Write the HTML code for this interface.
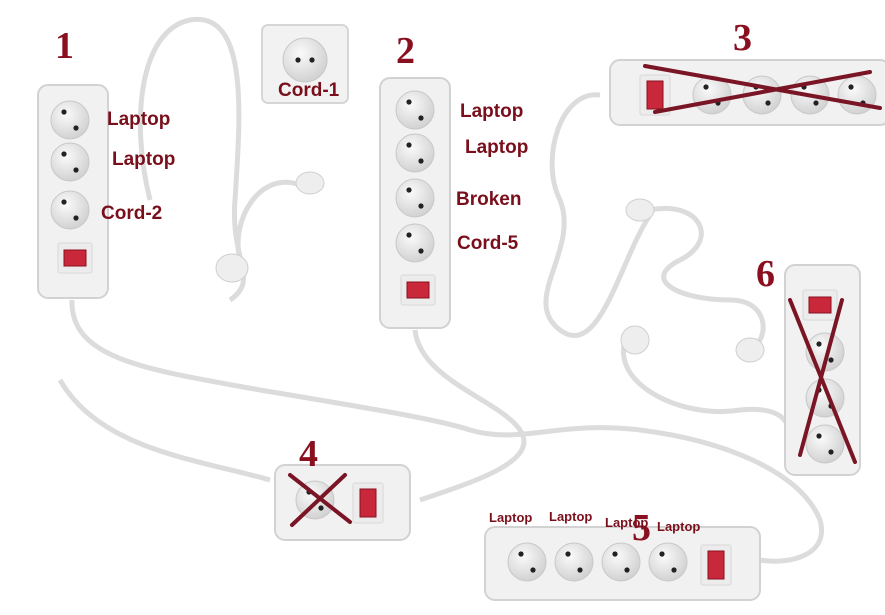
<!DOCTYPE html>
<html><head><meta charset="utf-8"><style>
html,body{margin:0;padding:0;background:#fff;}
svg{display:block}
.l{font-family:"Liberation Sans",sans-serif;font-weight:bold;fill:#7a0f1c;font-size:19px}
.s{font-family:"Liberation Sans",sans-serif;font-weight:bold;fill:#7a0f1c;font-size:13px}
.n{font-family:"Liberation Serif",serif;font-weight:bold;fill:#8a1020;font-size:38px}
.x{stroke:#7a1525;stroke-width:4;stroke-linecap:round}
.c{fill:none;stroke:#dcdcdc;stroke-width:5}
.c2{fill:none;stroke:#f4f4f4;stroke-width:2}
</style></head><body>
<svg width="885" height="615" viewBox="0 0 885 615" xmlns="http://www.w3.org/2000/svg">
<defs>
<radialGradient id="sg" cx="40%" cy="35%" r="70%"><stop offset="0" stop-color="#fafafa"/><stop offset="1" stop-color="#cfcfcf"/></radialGradient>
<g id="sk"><circle r="19" fill="url(#sg)" stroke="#c8c8c8"/><circle cx="-6" cy="-8" r="2.6" fill="#222"/><circle cx="6" cy="8" r="2.6" fill="#222"/></g>
<g id="sw"><rect x="-17" y="-15" width="34" height="30" rx="2" fill="#ececec" stroke="#d8d8d8"/><rect x="-11" y="-8" width="22" height="16" fill="#c8283a" stroke="#8a1020"/></g>
<g id="swv"><rect x="-15" y="-20" width="30" height="40" rx="2" fill="#ececec" stroke="#d8d8d8"/><rect x="-8" y="-14" width="16" height="28" fill="#c8283a" stroke="#8a1020"/></g>
</defs>
<rect width="885" height="615" fill="#fff"/>
<!-- cords -->
<g>
<path class="c" d="M72 300 C70 360 150 370 260 390 C380 410 440 420 470 430 C520 445 560 420 640 430 C720 440 800 470 820 520 C830 555 790 565 760 560"/>
<path class="c" d="M415 330 C420 380 500 400 520 430 C540 460 480 480 420 500"/>
<path class="c" d="M150 200 C130 120 140 30 190 20 C250 10 240 120 235 200 C230 260 260 280 230 300"/>
<path class="c" d="M300 185 C260 170 230 220 240 260"/>
<path class="c" d="M600 95 C560 90 540 160 560 200 C580 250 520 300 560 330 C600 360 620 260 650 215"/>
<path class="c" d="M650 210 C700 200 720 240 680 260 C640 280 680 300 730 300 C770 300 770 340 750 350"/>
<path class="c" d="M630 330 C600 380 680 420 740 410 C790 405 790 430 790 440"/>
<path class="c" d="M60 380 C100 450 200 460 270 480"/>
</g>
<!-- plugs -->
<g fill="#eee" stroke="#cfcfcf"><ellipse cx="310" cy="183" rx="14" ry="11"/><ellipse cx="232" cy="268" rx="16" ry="14"/><ellipse cx="640" cy="210" rx="14" ry="11"/><ellipse cx="635" cy="340" rx="14" ry="14"/><ellipse cx="750" cy="350" rx="14" ry="12"/></g>
<!-- wall socket -->
<rect x="262" y="25" width="86" height="78" rx="6" fill="#f2f2f2" stroke="#d6d6d6" stroke-width="2"/>
<circle cx="305" cy="60" r="22" fill="url(#sg)" stroke="#c8c8c8"/><circle cx="298" cy="60" r="2.6" fill="#222"/><circle cx="312" cy="60" r="2.6" fill="#222"/>
<text class="l" x="278" y="96">Cord-1</text>
<!-- strip 1 -->
<rect x="38" y="85" width="70" height="213" rx="10" fill="#f1f1f1" stroke="#d2d2d2" stroke-width="2"/>
<use href="#sk" x="70" y="120"/><use href="#sk" x="70" y="162"/><use href="#sk" x="70" y="210"/>
<use href="#sw" x="75" y="258"/>
<text class="l" x="107" y="125">Laptop</text><text class="l" x="112" y="165">Laptop</text><text class="l" x="101" y="219">Cord-2</text>
<text class="n" x="55" y="58">1</text>
<!-- strip 2 -->
<rect x="380" y="78" width="70" height="250" rx="10" fill="#f1f1f1" stroke="#d2d2d2" stroke-width="2"/>
<use href="#sk" x="415" y="110"/><use href="#sk" x="415" y="153"/><use href="#sk" x="415" y="198"/><use href="#sk" x="415" y="243"/>
<use href="#sw" x="418" y="290"/>
<text class="l" x="460" y="117">Laptop</text><text class="l" x="465" y="153">Laptop</text><text class="l" x="456" y="205">Broken</text><text class="l" x="457" y="249">Cord-5</text>
<text class="n" x="396" y="63">2</text>
<!-- strip 3 -->
<rect x="610" y="60" width="280" height="65" rx="10" fill="#f1f1f1" stroke="#d2d2d2" stroke-width="2"/>
<use href="#swv" x="655" y="95"/>
<use href="#sk" x="712" y="95"/><use href="#sk" x="762" y="95"/><use href="#sk" x="810" y="95"/><use href="#sk" x="857" y="95"/>
<line class="x" x1="645" y1="66" x2="880" y2="108"/><line class="x" x1="655" y1="112" x2="870" y2="72"/>
<text class="n" x="733" y="50">3</text>
<!-- strip 6 -->
<rect x="785" y="265" width="75" height="210" rx="10" fill="#f1f1f1" stroke="#d2d2d2" stroke-width="2"/>
<use href="#sw" x="820" y="305"/>
<use href="#sk" x="825" y="352"/><use href="#sk" x="825" y="398"/><use href="#sk" x="825" y="444"/>
<line class="x" x1="790" y1="300" x2="855" y2="462"/><line class="x" x1="842" y1="300" x2="800" y2="455"/>
<text class="n" x="756" y="286">6</text>
<!-- strip 4 -->
<rect x="275" y="465" width="135" height="75" rx="10" fill="#f1f1f1" stroke="#d2d2d2" stroke-width="2"/>
<use href="#sk" x="315" y="500"/><use href="#swv" x="368" y="503"/>
<line class="x" x1="290" y1="475" x2="350" y2="522"/><line class="x" x1="345" y1="475" x2="292" y2="525"/>
<text class="n" x="299" y="466">4</text>
<!-- strip 5 -->
<rect x="485" y="527" width="275" height="73" rx="10" fill="#f1f1f1" stroke="#d2d2d2" stroke-width="2"/>
<use href="#sk" x="527" y="562"/><use href="#sk" x="574" y="562"/><use href="#sk" x="621" y="562"/><use href="#sk" x="668" y="562"/>
<use href="#swv" x="716" y="565"/>
<text class="n" x="632" y="540">5</text>
<text class="s" x="489" y="522">Laptop</text><text class="s" x="549" y="521">Laptop</text><text class="s" x="605" y="527">Laptop</text><text class="s" x="657" y="531">Laptop</text>
</svg>
</body></html>
